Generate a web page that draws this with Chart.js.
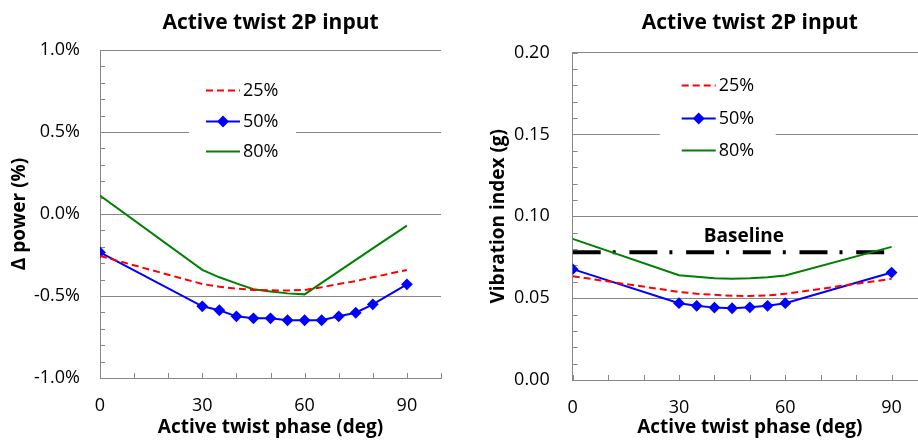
<!DOCTYPE html>
<html>
<head>
<meta charset="utf-8">
<script src="https://cdn.jsdelivr.net/npm/chart.js@4/dist/chart.umd.min.js"></script>
<style>
  html, body { margin: 0; padding: 0; background: #fff; overflow: hidden; width: 918px; height: 444px; }
  #left { position: absolute; left: 0; top: 0; }
  #right { position: absolute; left: 460px; top: 0; }
</style>
</head>
<body>
<canvas id="left" width="460" height="444"></canvas>
<canvas id="right" width="500" height="444"></canvas>
<script>
// Textos
const chartTitle = 'Active twist 2P input';
const xTitle = 'Active twist phase (deg)';
const xTickLabels = [0, 30, 60, 90];

// Gráfico da esquerda: variação de potência (%)
const phaseLeft = [0, 30, 35, 40, 45, 50, 55, 60, 65, 70, 75, 80, 90];
const power25 = [-0.256, -0.427, -0.443, -0.455, -0.463, -0.465, -0.467, -0.463, -0.447, -0.427, -0.409, -0.386, -0.341];
const power50 = [-0.234, -0.563, -0.587, -0.624, -0.636, -0.636, -0.648, -0.648, -0.648, -0.624, -0.602, -0.551, -0.429];
const power80 = [0.112, -0.341, -0.386, -0.423, -0.459, -0.472, -0.484, -0.49, -0.42, -0.35, -0.28, -0.21, -0.071];

// Gráfico da direita: índice de vibração (g)
const phaseRight = [0, 30, 35, 40, 45, 50, 55, 60, 90];
const vib25 = [0.0634, 0.0538, 0.0527, 0.052, 0.0514, 0.0513, 0.0516, 0.0526, 0.0618];
const vib50 = [0.0677, 0.0469, 0.0453, 0.0442, 0.0438, 0.0444, 0.0453, 0.0469, 0.0656];
const vib80 = [0.0862, 0.064, 0.063, 0.0621, 0.0619, 0.0621, 0.0628, 0.0638, 0.0813];
const baselinePhase = [0, 90];
const baselineVib = [0.078, 0.078];

const FONT = "'Open Sans', sans-serif";
const GRID = '#888888';
Chart.defaults.font.family = FONT;
Chart.defaults.font.size = 18;
Chart.defaults.color = '#000';

const toXY = (xs, ys) => xs.map((x, i) => ({ x, y: ys[i] }));

function seriesSets(xs, a, b, c) {
    return [
        { label: '25%', data: toXY(xs, a), borderColor: '#ff0000', borderWidth: 2, borderDash: [7, 4], pointRadius: 0, legend: true },
        { label: '50%', data: toXY(xs, b), borderColor: '#0000ff', backgroundColor: '#0000ff', borderWidth: 2, pointStyle: 'rectRot', pointRadius: 4.5, legend: true },
        { label: '80%', data: toXY(xs, c), borderColor: '#008000', borderWidth: 2, pointRadius: 0, legend: true }
    ];
}

// marcas de escala para dentro
const innerTicks = {
    id: 'innerTicks',
    beforeDatasetsDraw(chart) {
        const { ctx, chartArea, scales: { x, y } } = chart;
        ctx.save();
        ctx.strokeStyle = GRID;
        ctx.lineWidth = 1;
        ctx.beginPath();
        x.ticks.forEach(t => {
            const px = Math.round(x.getPixelForValue(t.value)) + 0.5;
            ctx.moveTo(px, chartArea.bottom);
            ctx.lineTo(px, chartArea.bottom - 5);
        });
        y.ticks.forEach(t => {
            const py = Math.round(y.getPixelForValue(t.value)) + 0.5;
            ctx.moveTo(chartArea.left, py);
            ctx.lineTo(chartArea.left + 5, py);
        });
        ctx.stroke();
        ctx.restore();
    }
};

// legenda dentro da área do gráfico
const boxLegend = {
    id: 'boxLegend',
    afterDatasetsDraw(chart, args, o) {
        const { ctx, chartArea } = chart;
        const x0 = chartArea.left + o.x, y0 = chartArea.top + o.y;
        ctx.save();
        ctx.fillStyle = '#fff';
        ctx.fillRect(x0, y0, o.width, o.height);
        let k = 0;
        chart.data.datasets.forEach(ds => {
            if (!ds.legend) return;
            const cy = Math.round(y0 + o.rowTop + k * o.rowGap) + 0.5;
            const lx = x0 + o.lineX;
            ctx.strokeStyle = ds.borderColor;
            ctx.lineWidth = ds.borderWidth;
            ctx.setLineDash(ds.borderDash || []);
            ctx.beginPath();
            ctx.moveTo(lx, cy);
            ctx.lineTo(lx + o.lineLen, cy);
            ctx.stroke();
            ctx.setLineDash([]);
            if (ds.pointRadius) {
                ctx.fillStyle = ds.backgroundColor;
                Chart.helpers.drawPoint(ctx, { pointStyle: ds.pointStyle, radius: ds.pointRadius, rotation: 0, borderWidth: 1 }, lx + o.lineLen / 2, cy);
            }
            ctx.fillStyle = '#000';
            ctx.font = '18px ' + FONT;
            ctx.textBaseline = 'middle';
            ctx.fillText(ds.label, lx + o.lineLen + 3, cy);
            k++;
        });
        ctx.restore();
    }
};

const baselineLabel = {
    id: 'baselineLabel',
    afterDatasetsDraw(chart, args, o) {
        if (!o.text) return;
        const { ctx, scales: { x, y } } = chart;
        ctx.save();
        ctx.font = 'bold 19px ' + FONT;
        ctx.fillStyle = '#000';
        ctx.textAlign = 'center';
        ctx.textBaseline = 'middle';
        ctx.fillText(o.text, x.getPixelForValue(o.atX), y.getPixelForValue(o.atY) - o.lift);
        ctx.restore();
    }
};

function makeChart(id, p) {
    return new Chart(document.getElementById(id), {
        type: 'line',
        data: { datasets: p.datasets },
        plugins: [innerTicks, boxLegend, baselineLabel],
        options: {
            responsive: false,
            animation: false,
            layout: { padding: { left: 0, right: p.padRight, top: 0, bottom: 0 } },
            elements: { line: { tension: 0, fill: false } },
            plugins: {
                legend: { display: false },
                tooltip: { enabled: false },
                title: {
                    display: true, text: chartTitle, fullSize: false, color: '#000',
                    font: { size: 21, weight: 'bold' },
                    padding: { top: 10.4, bottom: p.titleBottom }
                },
                boxLegend: p.legend,
                baselineLabel: p.baseline || {}
            },
            scales: {
                x: {
                    type: 'linear', min: 0, max: 100,
                    ticks: {
                        stepSize: 10, autoSkip: false, maxRotation: 0, padding: 17,
                        callback: v => xTickLabels.includes(v) ? String(v) : ''
                    },
                    grid: { display: false, drawTicks: false },
                    border: { display: true, color: GRID, width: 1 },
                    title: { display: true, text: xTitle, font: { size: 19, weight: 'bold' }, padding: { top: 0, bottom: 4.6 } },
                    afterFit: s => { s.height = p.xHeight; }
                },
                y: {
                    min: p.yMin, max: p.yMax,
                    ticks: {
                        stepSize: p.yStep, autoSkip: false, padding: p.yPad,
                        callback: v => p.isMajor(v) ? p.fmt(v) : ''
                    },
                    grid: {
                        drawTicks: false, lineWidth: 1,
                        color: c => p.isMajor(c.tick.value) ? GRID : 'rgba(0,0,0,0)'
                    },
                    border: { display: true, color: GRID, width: 1 },
                    title: { display: true, text: p.yTitle, font: { size: 19, weight: 'bold' }, padding: { top: p.yTitlePad, bottom: 0 } },
                    afterFit: s => { s.width = p.yWidth; }
                }
            }
        }
    });
}

makeChart('left', {
    datasets: seriesSets(phaseLeft, power25, power50, power80),
    padRight: 19, titleBottom: 14.4, xHeight: 66,
    yMin: -1, yMax: 1, yStep: 0.1, yPad: 20, yWidth: 100, yTitlePad: 8.6,
    yTitle: 'Δ power (%)',
    isMajor: v => Math.round(v * 10) % 5 === 0,
    fmt: v => (Math.round(v * 10) / 10).toFixed(1) + '%',
    legend: { x: 89, y: 24, width: 107, height: 96, rowTop: 16, rowGap: 30.5, lineX: 17, lineLen: 34 }
});

const rightSets = seriesSets(phaseRight, vib25, vib50, vib80);
rightSets.push({
    label: 'Baseline', data: toXY(baselinePhase, baselineVib), borderColor: '#000', borderWidth: 4,
    borderDash: [28, 12, 3, 13.7], borderCapStyle: 'butt', pointRadius: 0, legend: false
});

makeChart('right', {
    datasets: rightSets,
    padRight: 33, titleBottom: 16.9, xHeight: 64,
    yMin: 0, yMax: 0.2, yStep: 0.01, yPad: 23, yWidth: 112.7, yTitlePad: 27.6,
    yTitle: 'Vibration index (g)',
    isMajor: v => Math.round(v * 100) % 5 === 0,
    fmt: v => (Math.round(v * 100) / 100).toFixed(2),
    legend: { x: 87, y: 16, width: 116, height: 100, rowTop: 16.5, rowGap: 32.5, lineX: 22, lineLen: 34 },
    baseline: { text: 'Baseline', atX: 48.3, atY: 0.078, lift: 16 }
});
</script>
</body>
</html>
